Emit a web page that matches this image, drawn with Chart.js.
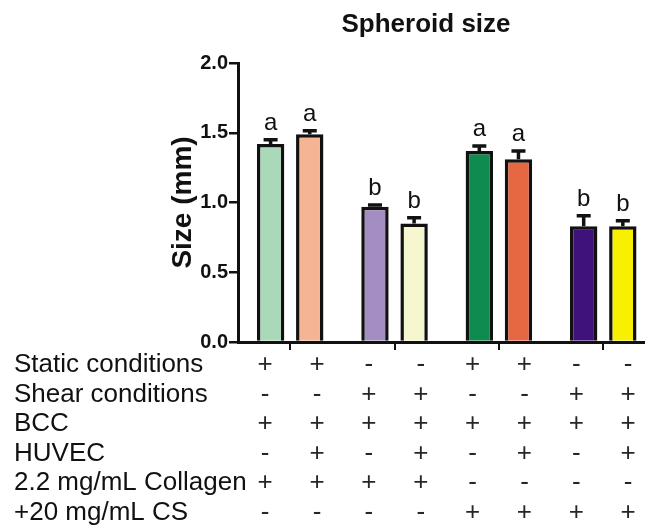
<!DOCTYPE html>
<html>
<head>
<meta charset="utf-8">
<script src="https://cdn.jsdelivr.net/npm/chart.js@4.4.0/dist/chart.umd.min.js"></script>
<style>
html,body{margin:0;padding:0;background:#fff;overflow:hidden;}
#wrap{width:645px;height:530px;}
</style>
</head>
<body>
<div id="wrap"><canvas id="c" width="645" height="530"></canvas></div>
<script>
// ---- data ----
const groups = [0, 1, 2, 3];
const sizes = [1.42, 1.49, 0.97, 0.85, 1.37, 1.31, 0.83, 0.83];
const errors = [0.03, 0.025, 0.012, 0.04, 0.035, 0.06, 0.075, 0.04];
const letters = ["a", "a", "b", "b", "a", "a", "b", "b"];
const barColors = ["#a9d9b8", "#f5b493", "#a38dc1", "#f6f6cf", "#0f8b4f", "#e66843", "#3f117a", "#f7f000"];
const yTicks = [0, 0.5, 1.0, 1.5, 2.0];
const rowLabels = ["Static conditions", "Shear conditions", "BCC", "HUVEC", "2.2 mg/mL Collagen", "+20 mg/mL CS"];
const rowSigns = [
  ["+", "+", "-", "-", "+", "+", "-", "-"],
  ["-", "-", "+", "+", "-", "-", "+", "+"],
  ["+", "+", "+", "+", "+", "+", "+", "+"],
  ["-", "+", "-", "+", "-", "+", "-", "+"],
  ["+", "+", "+", "+", "-", "-", "-", "-"],
  ["-", "-", "-", "-", "+", "+", "+", "+"]
];
const chartTitle = "Spheroid size";
const yTitle = "Size (mm)";

const FONT = "'Liberation Sans', Arial, sans-serif";
const INK = "#111111";

function pick(arr, parity) { return arr.filter((_, i) => i % 2 === parity); }

const datasets = [0, 1].map(p => ({
  data: groups.map((g, k) => ({ x: g, y: sizes[2 * k + p] })),
  errs: groups.map((g, k) => errors[2 * k + p]),
  marks: groups.map((g, k) => letters[2 * k + p]),
  backgroundColor: pick(barColors, p),
  borderColor: INK,
  borderWidth: 3.5,
  borderSkipped: 'bottom',
  categoryPercentage: 0.75,
  barPercentage: 0.7
}));

const extras = {
  id: 'extras',
  afterDraw(chart) {
    const ctx = chart.ctx;
    const ys = chart.scales.y, xs = chart.scales.x;
    ctx.save();
    // error bars and letters
    chart.data.datasets.forEach((ds, di) => {
      const meta = chart.getDatasetMeta(di);
      meta.data.forEach((el, i) => {
        const v = ds.data[i].y, e = ds.errs[i];
        const yt = ys.getPixelForValue(v + e);
        ctx.strokeStyle = INK;
        ctx.lineWidth = 3.5;
        ctx.beginPath();
        ctx.moveTo(el.x, el.y);
        ctx.lineTo(el.x, yt);
        ctx.moveTo(el.x - 7, yt);
        ctx.lineTo(el.x + 7, yt);
        ctx.stroke();
        ctx.fillStyle = INK;
        ctx.font = "24px " + FONT;
        ctx.textAlign = 'center';
        ctx.textBaseline = 'alphabetic';
        ctx.fillText(ds.marks[i], el.x, yt - 10);
      });
    });
    // title
    ctx.fillStyle = INK;
    ctx.font = "bold 26px " + FONT;
    ctx.textAlign = 'center';
    ctx.textBaseline = 'alphabetic';
    ctx.fillText(chartTitle, 426, 32);
    // table
    ctx.font = "26px " + FONT;
    rowLabels.forEach((lab, r) => {
      const by = 372 + r * 29.6;
      ctx.textAlign = 'left';
      ctx.fillStyle = INK;
      ctx.fillText(lab, 14, by);
      rowSigns[r].forEach((s, c) => {
        const cx = xs.getPixelForValue(-0.24 + c * 0.497);
        ctx.textAlign = 'center';
        ctx.fillStyle = "#262626";
        ctx.fillText(s, cx, by);
      });
    });
    ctx.restore();
  }
};

new Chart(document.getElementById('c'), {
  type: 'bar',
  data: { datasets },
  options: {
    responsive: false,
    animation: false,
    devicePixelRatio: 1,
    layout: { padding: { top: 63, right: 0, bottom: 0, left: 0 } },
    plugins: { legend: { display: false }, tooltip: { enabled: false }, title: { display: false } },
    scales: {
      x: {
        type: 'linear',
        offset: false,
        min: -0.5,
        max: 3.4,
        afterBuildTicks: s => { s.ticks = groups.map(v => ({ value: v })); },
        afterFit: s => { s.height = 188; },
        ticks: { display: false },
        grid: { display: true, offset: false, drawOnChartArea: false, drawTicks: true, tickLength: 8, color: INK, lineWidth: 2 },
        border: { display: true, color: INK, width: 3 }
      },
      y: {
        min: 0,
        max: 2,
        afterBuildTicks: s => { s.ticks = yTicks.map(v => ({ value: v })); },
        afterFit: s => { s.width = 238; },
        ticks: {
          callback: v => Number(v).toFixed(1),
          font: { family: FONT, size: 20, weight: 'bold' },
          color: INK,
          padding: 1
        },
        grid: { display: true, drawOnChartArea: false, drawTicks: true, tickLength: 9, color: INK, lineWidth: 2.5 },
        border: { display: true, color: INK, width: 3 },
        title: {
          display: true,
          text: yTitle,
          font: { family: FONT, size: 28, weight: 'bold' },
          color: INK,
          padding: { top: 166, bottom: 0 }
        }
      }
    }
  },
  plugins: [extras]
});
</script>
</body>
</html>
